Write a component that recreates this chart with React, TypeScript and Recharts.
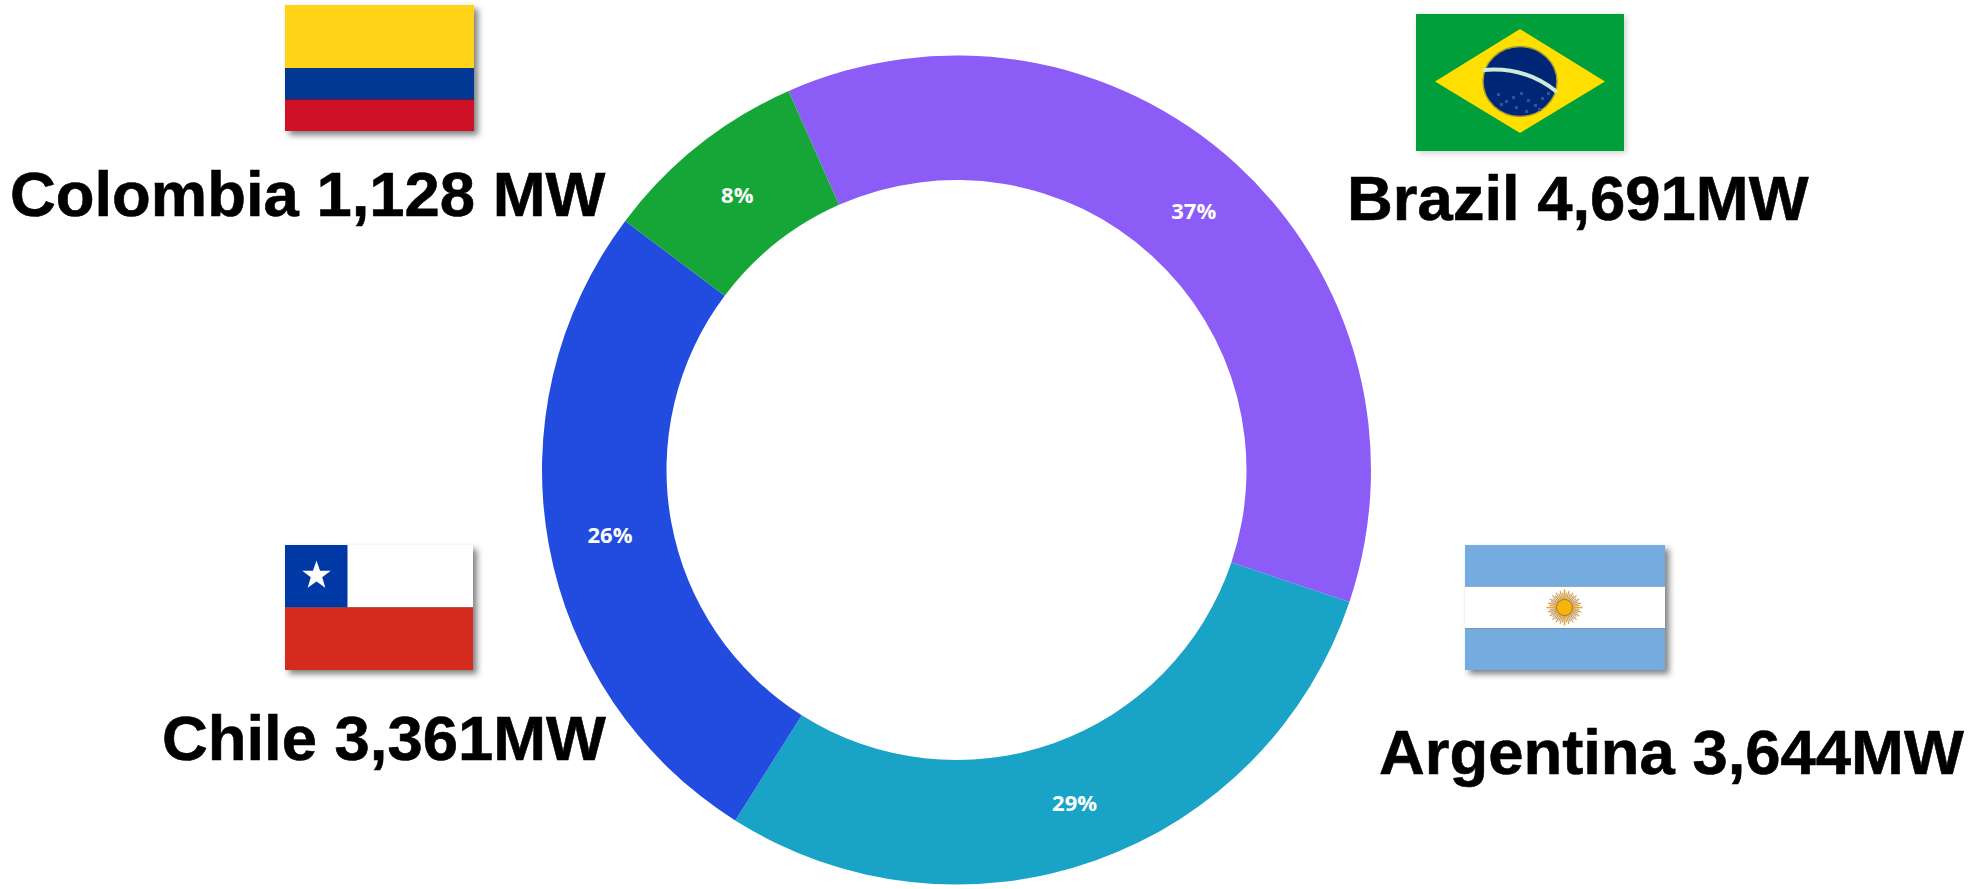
import React from "react";
import { PieChart, Pie, Cell } from "recharts";

// Installed capacity by country
const countries = ["Brazil", "Argentina", "Chile", "Colombia"];
const shares = [36.8, 28.8, 26.3, 8.1];
const capacityLabels = ["Brazil 4,691MW", "Argentina 3,644MW", "Chile 3,361MW", "Colombia 1,128 MW"];
const sliceColors = ["#8B5CF6", "#18A3C7", "#214CDF", "#16A637"];

const chartData = countries.map((name, i) => ({ name, value: shares[i] }));

const captionAnchors = [
  { x: 1347, y: 219.5 },
  { x: 1379, y: 774 },
  { x: 162, y: 760 },
  { x: 10, y: 216 },
];

const RADIAN = Math.PI / 180;

function PercentLabel(props: any) {
  const { cx, cy, midAngle, innerRadius, outerRadius, value } = props;
  const r = (innerRadius + outerRadius) / 2;
  return (
    <text
      x={cx + r * Math.cos(-midAngle * RADIAN)}
      y={cy + r * Math.sin(-midAngle * RADIAN)}
      fill="#ffffff"
      textAnchor="middle"
      dominantBaseline="central"
      fontFamily="'Open Sans', sans-serif"
      fontWeight={700}
      fontSize={22}
    >
      {Math.round(value)}%
    </text>
  );
}

function starPoints(cx: number, cy: number, outer: number, inner: number) {
  const pts: string[] = [];
  for (let i = 0; i < 10; i++) {
    const a = -Math.PI / 2 + (i * Math.PI) / 5;
    const r = i % 2 === 0 ? outer : inner;
    pts.push(`${cx + r * Math.cos(a)},${cy + r * Math.sin(a)}`);
  }
  return pts.join(" ");
}

function ColombiaFlag() {
  return (
    <g>
      <rect x={285} y={5} width={189} height={126} fill="#000" filter="url(#flagShadow)" />
      <rect x={285} y={5} width={189} height={63} fill="#FFD316" />
      <rect x={285} y={68} width={189} height={31.5} fill="#003893" />
      <rect x={285} y={99.5} width={189} height={31.5} fill="#CE1126" />
    </g>
  );
}

function BrazilFlag() {
  const dots = [
    [1497, 93], [1505, 100], [1512, 96], [1520, 92], [1527, 99], [1534, 104],
    [1541, 97], [1547, 92], [1515, 106], [1525, 110], [1500, 103], [1538, 108],
  ];
  return (
    <g>
      <rect x={1418} y={16} width={208} height={137} fill="#000" filter="url(#softShadow)" />
      <rect x={1416} y={14} width={208} height={137} fill="#009F3C" />
      <polygon points="1435,81.5 1520,29 1605,81.5 1520,133" fill="#FFDF00" />
      <ellipse cx={1520} cy={81.5} rx={37} ry={35} fill="#002776" stroke="#A89A30" strokeWidth={1.5} />
      <path d="M1483,70 Q1525,66 1557,92" fill="none" stroke="#CFEBD8" strokeWidth={4} />
      {dots.map(([x, y], i) => (
        <rect key={i} x={x} y={y} width={3} height={3} fill="#2F52A0" />
      ))}
    </g>
  );
}

function ChileFlag() {
  return (
    <g>
      <rect x={285} y={545} width={188} height={125} fill="#000" filter="url(#flagShadow)" />
      <rect x={285} y={545} width={188} height={62.5} fill="#FFFFFF" />
      <rect x={285} y={545} width={62.5} height={62.5} fill="#0039A6" />
      <rect x={285} y={607.5} width={188} height={62.5} fill="#D52B1E" />
      <polygon points={starPoints(316.5, 575.5, 15, 6)} fill="#FFFFFF" />
    </g>
  );
}

function ArgentinaFlag() {
  const rayAngles = Array.from({ length: 48 }, (_, i) => (i * 360) / 48);
  const sx = 1564.5;
  const sy = 607.5;
  return (
    <g>
      <rect x={1465} y={545} width={200} height={125} fill="#000" filter="url(#flagShadow)" />
      <rect x={1465} y={545} width={200} height={41.5} fill="#74ACDF" />
      <rect x={1465} y={586.5} width={200} height={42} fill="#FFFFFF" />
      <rect x={1465} y={628.5} width={200} height={41.5} fill="#74ACDF" />
      {rayAngles.map((a, i) => {
        const long = i % 12 === 0;
        const rEnd = long ? 18 : i % 2 === 0 ? 17 : 15;
        return (
          <line
            key={a}
            x1={sx}
            y1={sy}
            x2={sx + rEnd * Math.cos(a * RADIAN)}
            y2={sy + rEnd * Math.sin(a * RADIAN)}
            stroke={long ? "#F0A81E" : "#B9812E"}
            strokeWidth={long ? 1.6 : 1.1}
            strokeOpacity={long ? 1 : 0.8}
          />
        );
      })}
      <circle cx={sx} cy={sy} r={8} fill="#F6B40E" stroke="#B97A0C" strokeWidth={1} />
    </g>
  );
}

export default function App() {
  return (
    <div style={{ position: "absolute", left: 0, top: 0, width: 1968, height: 889, overflow: "hidden", background: "#fff" }}>
      <PieChart width={1968} height={889} margin={{ top: 0, right: 0, bottom: 0, left: 0 }}>
        <defs>
          <filter id="flagShadow" x="-10%" y="-10%" width="125%" height="130%">
            <feDropShadow dx={4} dy={4} stdDeviation={3} floodColor="#000" floodOpacity={0.5} />
          </filter>
          <filter id="softShadow" x="-10%" y="-10%" width="125%" height="130%">
            <feGaussianBlur stdDeviation={3} />
            <feComponentTransfer>
              <feFuncA type="linear" slope={0.2} />
            </feComponentTransfer>
          </filter>
        </defs>
        <Pie
          data={chartData}
          dataKey="value"
          nameKey="name"
          cx={956.5}
          cy={470}
          innerRadius={290}
          outerRadius={414.5}
          startAngle={113.9}
          endAngle={-246.1}
          paddingAngle={0}
          stroke="none"
          label={PercentLabel}
          labelLine={false}
          isAnimationActive={false}
        >
          {chartData.map((d, i) => (
            <Cell key={d.name} fill={sliceColors[i]} />
          ))}
        </Pie>
        <ColombiaFlag />
        <BrazilFlag />
        <ChileFlag />
        <ArgentinaFlag />
        {capacityLabels.map((label, i) => (
          <text
            key={label}
            x={captionAnchors[i].x}
            y={captionAnchors[i].y}
            fontFamily="'Liberation Sans', Arial, sans-serif"
            fontWeight={700}
            fontSize={63.4}
            stroke="#000000"
            strokeWidth={0.6}
            fill="#000000"
          >
            {label}
          </text>
        ))}
      </PieChart>
    </div>
  );
}
